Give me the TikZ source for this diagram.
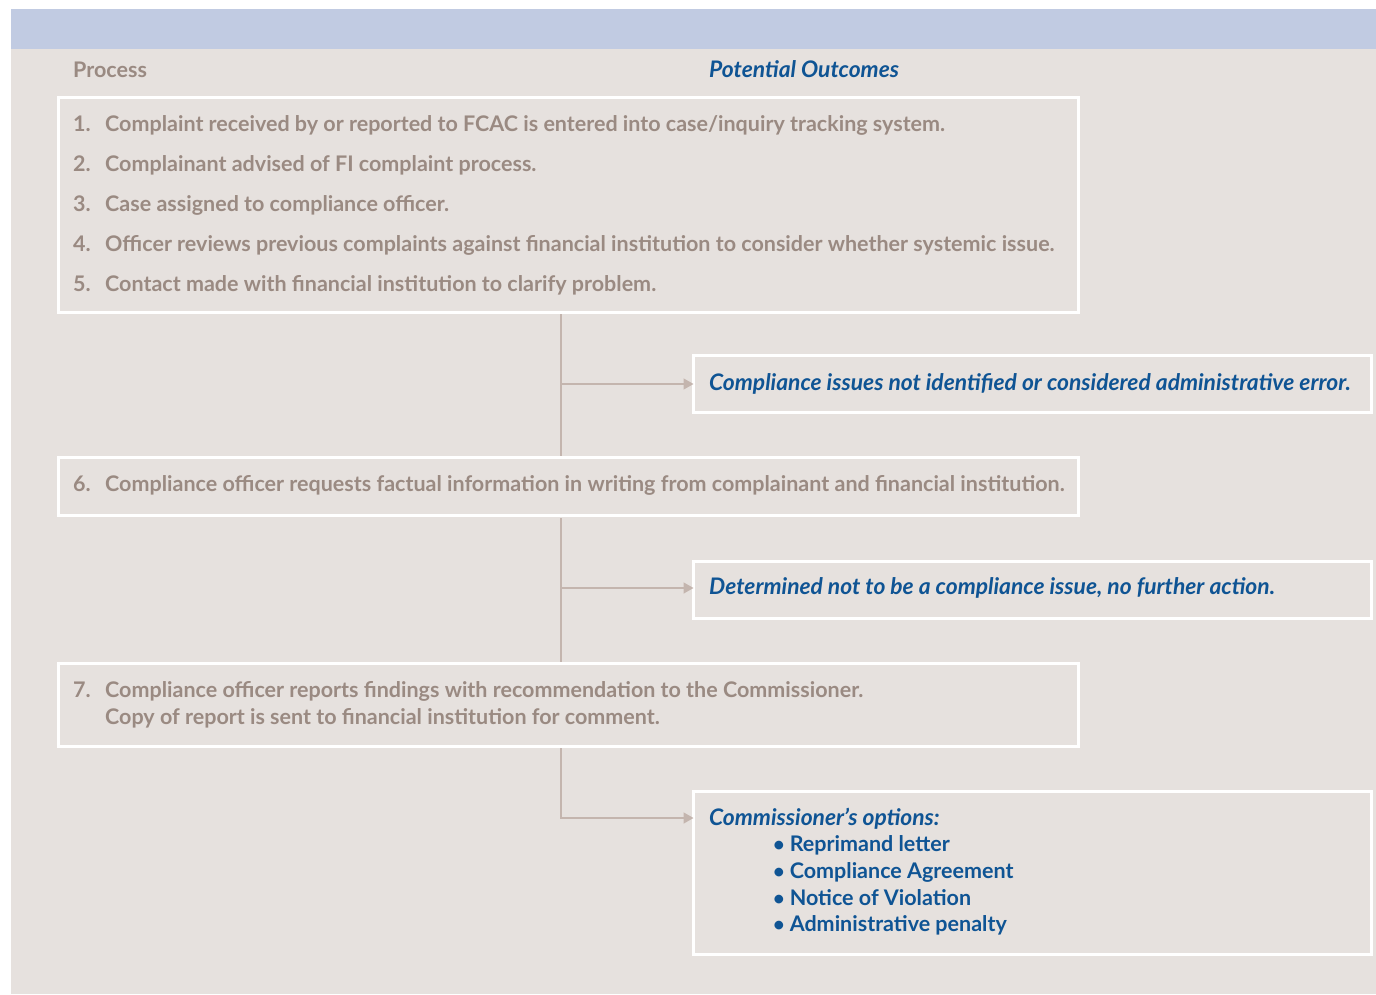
\documentclass[tikz,border=0pt]{standalone}
\usepackage{fontspec}
\setmainfont{Lato}
\usetikzlibrary{arrows.meta,calc}
\definecolor{panel}{HTML}{E6E1DE}
\definecolor{band}{HTML}{C1CBE2}
\definecolor{ptext}{HTML}{9A8A82}
\definecolor{otext}{HTML}{0F5494}
\definecolor{conn}{HTML}{C4B5AE}
\newcommand{\bul}{{\fontsize{20}{20}\selectfont •}\hspace{5pt}}
\tikzset{
  boxst/.style={draw=white, line width=3pt, fill=panel, inner sep=0pt, outer sep=0pt, anchor=north west},
  ptxt/.style={anchor=base west, inner sep=0pt, text=ptext, font=\fontsize{21.5}{25}\selectfont\bfseries},
  otxt/.style={anchor=base west, inner sep=0pt, text=otext, font=\fontsize{22.8}{26}\selectfont\bfseries\itshape},
  btxt/.style={anchor=base west, inner sep=0pt, text=otext, font=\fontsize{21.5}{25}\selectfont\bfseries},
  connst/.style={draw=conn, line width=1.5pt},
  arrowst/.style={connst, -{Triangle[length=10pt,width=11pt]}}
}
\begin{document}
\begin{tikzpicture}[x=1pt,y=-1pt]
\useasboundingbox (0,0) rectangle (1376,994);
\fill[white] (0,0) rectangle (1376,994);
\fill[panel] (11,9) rectangle (1376,994);
\fill[band] (11,9) rectangle (1376,49);
% headings
\node[ptxt] (hp) at (73,77) {Process};
\node[otxt] (ho) at (709,77) {Potential Outcomes};
% process boxes
\node[boxst, minimum width=1020pt, minimum height=215pt] (b1) at (58.5,97.5) {};
\node[boxst, minimum width=1020pt, minimum height=58pt] (b6) at (58.5,457.5) {};
\node[boxst, minimum width=1020pt, minimum height=83pt] (b7) at (58.5,663.5) {};
% outcome boxes
\node[boxst, minimum width=678pt, minimum height=57pt] (o1) at (693.5,355.5) {};
\node[boxst, minimum width=678pt, minimum height=57pt] (o2) at (693.5,561.5) {};
\node[boxst, minimum width=678pt, minimum height=163pt] (o3) at (693.5,791.5) {};
% process text
\node[ptxt] (n1) at (73,131) {1.};
\node[ptxt] (t1) at (105,131) {Complaint received by or reported to FCAC is entered into case/inquiry tracking system.};
\node[ptxt] (n2) at (73,171) {2.};
\node[ptxt] (t2) at (105,171) {Complainant advised of FI complaint process.};
\node[ptxt] (n3) at (73,211) {3.};
\node[ptxt] (t3) at (105,211) {Case assigned to compliance officer.};
\node[ptxt] (n4) at (73,251) {4.};
\node[ptxt] (t4) at (105,251) {Officer reviews previous complaints against financial institution to consider whether systemic issue.};
\node[ptxt] (n5) at (73,291) {5.};
\node[ptxt] (t5) at (105,291) {Contact made with financial institution to clarify problem.};
\node[ptxt] (n6) at (73,491) {6.};
\node[ptxt] (t6) at (105,491) {Compliance officer requests factual information in writing from complainant and financial institution.};
\node[ptxt] (n7) at (73,697) {7.};
\node[ptxt] (t7) at (105,697) {Compliance officer reports findings with recommendation to the Commissioner.};
\node[ptxt] (t7b) at (105,724) {Copy of report is sent to financial institution for comment.};
% outcome text
\node[otxt] (ot1) at (709,390) {Compliance issues not identified or considered administrative error.};
\node[otxt] (ot2) at (709,594) {Determined not to be a compliance issue, no further action.};
\node[otxt] (ot3) at (709,825) {Commissioner’s options:};
\node[btxt] (ob1) at (773,851) {\bul Reprimand letter};
\node[btxt] (ob2) at (773,878) {\bul Compliance Agreement};
\node[btxt] (ob3) at (773,905) {\bul Notice of Violation};
\node[btxt] (ob4) at (773,931) {\bul Administrative penalty};
% connectors
\coordinate (s1) at (561,314);
\coordinate (e1) at (561,456);
\coordinate (j1) at (561,384);
\coordinate (s2) at (561,518);
\coordinate (e2) at (561,662);
\coordinate (j2) at (561,588);
\coordinate (s3) at (561,748);
\coordinate (j3) at (561,818);
\draw[connst] (s1) -- (e1);
\draw[arrowst] (j1) -- (o1.west |- j1);
\draw[connst] (s2) -- (e2);
\draw[arrowst] (j2) -- (o2.west |- j2);
\draw[arrowst] (s3) -- (j3) -- (o3.west |- j3);
\end{tikzpicture}
\end{document}
